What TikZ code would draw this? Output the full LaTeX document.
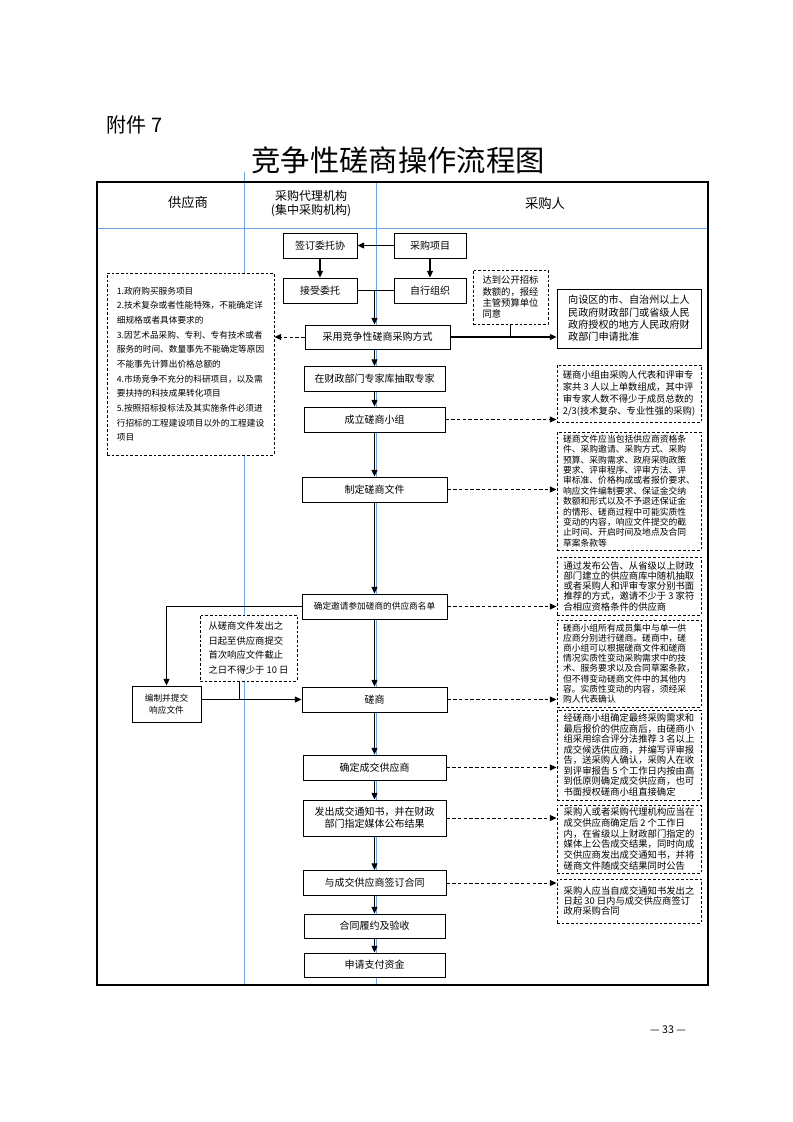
\documentclass[tikz,border=0pt]{standalone}
\usepackage{fontspec}
\setmainfont{Noto Sans CJK SC}
\usetikzlibrary{arrows.meta}
\definecolor{laneblue}{RGB}{110,165,225}
\tikzset{arrow/.style = {line width=0.8pt,-{Triangle[length=5pt,width=4.5pt]}}}
\tikzset{darrow/.style = {arrow, line width=0.7pt, dash pattern=on 2.5pt off 1.8pt}}
\tikzset{box/.style = {draw, line width=0.75pt, fill=white, inner sep=1pt, font=\fontsize{7.5}{9}\selectfont}}
\tikzset{dbox/.style = {box, dash pattern=on 2pt off 1.5pt, align=left}}
\tikzset{wh/.style 2 args = {minimum width=#1*0.75pt, minimum height=#2*0.75pt}}
\tikzset{lane/.style = {laneblue, line width=0.6pt}}

\begin{document}
\begin{tikzpicture}[x=0.75pt, y=-0.75pt]
\useasboundingbox (0,0) rectangle (793,1122);

\node[anchor=west, font=\fontsize{15}{15}\selectfont] (annex) at (102,125) {附件 7};
\node[font=\fontsize{22}{22}\selectfont] (title) at (398,160) {竞争性磋商操作流程图};

\draw[lane] (244,172) -- (244,985);
\draw[lane] (376,182) -- (376,985);
\draw[lane] (97,228) -- (708,228);
\draw[line width=1pt] (97,182) rectangle (708,985);

\node[font=\fontsize{10}{10}\selectfont] (hsup) at (188,202) {供应商};
\node[font=\fontsize{9}{10.5}\selectfont, align=center] (hagent) at (311,204) {采购代理机构\\(集中采购机构)};
\node[font=\fontsize{10}{10}\selectfont] (hbuyer) at (545,203) {采购人};

\node[box, wh={74}{25}] (sign) at (320,245.5) {签订委托协};
\node[box, wh={72}{25}] (proj) at (430,245.5) {采购项目};
\node[box, wh={74}{25}] (accept) at (320,290.5) {接受委托};
\node[box, wh={72}{25}] (self) at (430,290.5) {自行组织};
\coordinate (join) at (374.5,290.5);
\node[box, wh={145}{24}] (method) at (377.5,337) {采用竞争性磋商采购方式};
\node[box, wh={141}{25}] (expert) at (374.5,379) {在财政部门专家库抽取专家};
\node[box, wh={141}{25}] (group) at (374.5,419.5) {成立磋商小组};
\node[box, wh={145}{25}] (doc) at (374.5,489.5) {制定磋商文件};
\node[box, wh={145}{25}, font=\fontsize{6.5}{8}\selectfont] (list) at (374.5,606.5) {确定邀请参加磋商的供应商名单};
\node[box, wh={145}{25}] (nego) at (374.5,699.5) {磋商};
\node[box, wh={143}{25}] (deal) at (374.5,767.5) {确定成交供应商};
\node[box, wh={143}{36}, align=center] (notice) at (374.5,818) {发出成交通知书，并在财政\\部门指定媒体公布结果};
\node[box, wh={143}{25}] (contract) at (374.5,883) {与成交供应商签订合同};
\node[box, wh={141}{24}] (perform) at (374.5,926) {合同履约及验收};
\node[box, wh={141}{24}] (pay) at (374.5,965) {申请支付资金};

\draw[arrow] (proj) -- (sign);
\draw[arrow] (sign) -- (accept);
\draw[arrow] (proj) -- (self);
\draw[line width=0.8pt] (accept.east) -- (self.west);
\draw[arrow] (join) -- (join |- method.north);
\draw[arrow] (method.south -| expert) -- (expert);
\foreach \a/\b in {expert/group, group/doc, doc/list, list/nego, nego/deal, deal/notice, notice/contract, contract/perform, perform/pay}
  \draw[arrow] (\a) -- (\b);

\node[dbox, wh={167}{182}, font=\fontsize{6.5}{11}\selectfont] (reasons) at (190.5,364) {1.政府购买服务项目\\
2.技术复杂或者性能特殊，不能确定详\\
细规格或者具体要求的\\
3.因艺术品采购、专利、专有技术或者\\
服务的时间、数量事先不能确定等原因\\
不能事先计算出价格总额的\\
4.市场竞争不充分的科研项目，以及需\\
要扶持的科技成果转化项目\\
5.按照招标投标法及其实施条件必须进\\
行招标的工程建设项目以外的工程建设\\
项目};
\draw[darrow] (method.west) -- (method.west -| reasons.east);

\node[dbox, wh={75}{54}, font=\fontsize{7}{8.3}\selectfont] (cond) at (510.5,297) {达到公开招标\\数额的，报经\\主管预算单位\\同意};
\node[box, align=left, wh={144}{59}, font=\fontsize{7.6}{9.2}\selectfont] (approve) at (629,318.5) {向设区的市、自治州以上人\\民政府财政部门或省级人民\\政府授权的地方人民政府财\\政部门申请批准};
\draw[arrow] (method.east) -- (method.east -| approve.west);
\draw[line width=0.8pt] (cond.south) -- (cond.south |- method.east);

\node[dbox, wh={144}{57}, font=\fontsize{7}{9}\selectfont] (ngroup) at (629,393.5) {磋商小组由采购人代表和评审专\\家共 3 人以上单数组成，其中评\\审专家人数不得少于成员总数的\\2/3(技术复杂、专业性强的采购)};
\node[dbox, wh={144}{118}, font=\fontsize{6.6}{7.8}\selectfont] (ndoc) at (629,491) {磋商文件应当包括供应商资格条\\件、采购邀请、采购方式、采购\\预算、采购需求、政府采购政策\\要求、评审程序、评审方法、评\\审标准、价格构成或者报价要求、\\响应文件编制要求、保证金交纳\\数额和形式以及不予退还保证金\\的情形、磋商过程中可能实质性\\变动的内容，响应文件提交的截\\止时间、开启时间及地点及合同\\草案条款等};
\node[dbox, wh={144}{58}, font=\fontsize{7}{7.7}\selectfont] (nlist) at (629,586) {通过发布公告、从省级以上财政\\部门建立的供应商库中随机抽取\\或者采购人和评审专家分别书面\\推荐的方式，邀请不少于 3 家符\\合相应资格条件的供应商};
\node[dbox, wh={144}{87}, font=\fontsize{6.6}{7.6}\selectfont] (nnego) at (629,663.5) {磋商小组所有成员集中与单一供\\应商分别进行磋商。磋商中，磋\\商小组可以根据磋商文件和磋商\\情况实质性变动采购需求中的技\\术、服务要求以及合同草案条款，\\但不得变动磋商文件中的其他内\\容。实质性变动的内容，须经采\\购人代表确认};
\node[dbox, wh={144}{90}, font=\fontsize{7}{7.9}\selectfont] (ndeal) at (629,755) {经磋商小组确定最终采购需求和\\最后报价的供应商后，由磋商小\\组采用综合评分法推荐 3 名以上\\成交候选供应商，并编写评审报\\告，送采购人确认，采购人在收\\到评审报告 5 个工作日内按由高\\到低原则确定成交供应商，也可\\书面授权磋商小组直接确定};
\node[dbox, wh={144}{68}, font=\fontsize{7}{8}\selectfont] (nnotice) at (629,839) {采购人或者采购代理机构应当在\\成交供应商确定后 2 个工作日\\内，在省级以上财政部门指定的\\媒体上公告成交结果，同时向成\\交供应商发出成交通知书，并将\\磋商文件随成交结果同时公告};
\node[dbox, wh={144}{44}, font=\fontsize{7}{7.8}\selectfont] (ncontract) at (629,901) {采购人应当自成交通知书发出之\\日起 30 日内与成交供应商签订\\政府采购合同};
\foreach \s in {group, doc, list, nego, deal, notice, contract}
  \draw[darrow] (\s.east) -- (\s.east -| n\s.west);

\node[box, align=center, wh={69}{36}, font=\fontsize{6.5}{9}\selectfont] (edit) at (166.5,704) {编制并提交\\响应文件};
\node[dbox, wh={97}{66}, font=\fontsize{7}{10.8}\selectfont] (term) at (248.5,648) {从磋商文件发出之\\日起至供应商提交\\首次响应文件截止\\之日不得少于 10 日};
\draw[arrow] (list.west) -| (edit.north);
\draw[arrow] (nego.west -| edit.east) -- (nego.west);
\draw[line width=0.8pt] ([xshift=-7pt]term.south) -- ([xshift=-7pt]term.south |- nego.west);

\node[font=\fontsize{8}{8}\selectfont] (page) at (668,1030) {— 33 —};

\end{tikzpicture}
\end{document}
